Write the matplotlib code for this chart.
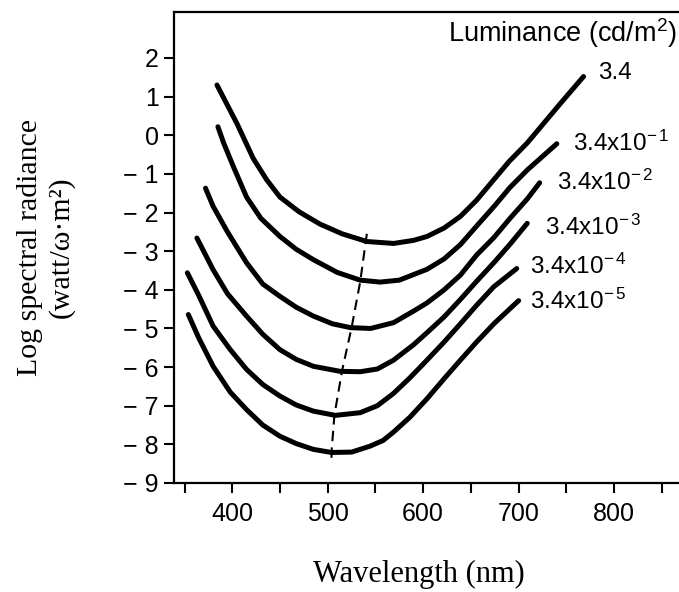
from __future__ import annotations

import matplotlib

matplotlib.use("Agg")
import matplotlib.pyplot as plt
from matplotlib.ticker import FixedLocator, FuncFormatter

# wavelength (nm) / log spectral radiance
WL_34_0 = [384, 405, 422, 436, 450, 470, 492, 515, 541, 569, 590, 604, 622, 639, 656, 674, 690, 709, 726, 743, 768]
LR_34_0 = [1.30, 0.30, -0.60, -1.15, -1.60, -1.98, -2.30, -2.55, -2.75, -2.80, -2.72, -2.62, -2.40, -2.10, -1.68,
           -1.15, -0.68, -0.20, 0.30, 0.80, 1.52]

WL_34_1 = [385, 391, 401, 415, 430, 450, 467, 485, 510, 534, 555, 575, 604, 622, 639, 656, 674, 691, 709, 740]
LR_34_1 = [0.22, -0.20, -0.80, -1.60, -2.15, -2.62, -2.95, -3.22, -3.55, -3.75, -3.80, -3.75, -3.47, -3.20, -2.83,
           -2.35, -1.85, -1.35, -0.90, -0.22]

WL_34_2 = [372, 380, 395, 415, 432, 450, 467, 485, 505, 524, 545, 569, 590, 604, 622, 639, 656, 674, 691, 709, 722]
LR_34_2 = [-1.37, -1.84, -2.50, -3.30, -3.85, -4.17, -4.45, -4.68, -4.88, -4.98, -5.00, -4.85, -4.55, -4.34, -4.00,
           -3.62, -3.10, -2.65, -2.15, -1.65, -1.23]

WL_34_3 = [363, 380, 395, 415, 432, 450, 467, 485, 513, 534, 552, 569, 590, 604, 622, 639, 656, 674, 691, 709]
LR_34_3 = [-2.66, -3.48, -4.10, -4.68, -5.15, -5.55, -5.80, -5.98, -6.11, -6.12, -6.05, -5.82, -5.42, -5.11, -4.70,
           -4.25, -3.78, -3.30, -2.82, -2.28]

WL_34_4 = [353, 365, 380, 398, 415, 432, 450, 467, 485, 508, 534, 552, 569, 586, 604, 622, 639, 656, 674, 698]
LR_34_4 = [-3.56, -4.15, -4.94, -5.55, -6.06, -6.45, -6.75, -6.98, -7.14, -7.25, -7.18, -7.00, -6.68, -6.28, -5.82,
           -5.35, -4.88, -4.40, -3.92, -3.45]

WL_34_5 = [354, 365, 380, 398, 415, 432, 450, 467, 485, 504, 525, 544, 558, 569, 586, 604, 622, 639, 656, 674, 700]
LR_34_5 = [-4.64, -5.25, -5.98, -6.65, -7.10, -7.50, -7.79, -7.98, -8.13, -8.21, -8.20, -8.05, -7.90, -7.68, -7.30,
           -6.82, -6.30, -5.82, -5.35, -4.88, -4.28]

# locus of the minima (dashed)
PEAK_WL = [541, 534, 525, 515, 507, 504, 504]
PEAK_LR = [-2.55, -3.80, -4.98, -6.10, -7.25, -8.20, -8.47]

CURVE_LABELS = ["3.4", r"3.4x10$^{-\,1}$", r"3.4x10$^{-\,2}$", r"3.4x10$^{-\,3}$", r"3.4x10$^{-\,4}$",
                r"3.4x10$^{-\,5}$"]
LABEL_WL = [783, 757, 740, 728, 712, 712]
LABEL_LR = [1.61, -0.22, -1.23, -2.37, -3.40, -4.30]

X_MAJOR = [400, 500, 600, 700, 800]
X_MINOR = [350, 450, 550, 650, 750, 850]
Y_TICKS = list(range(-9, 3))

SANS = ["Liberation Sans", "DejaVu Sans"]
SERIF = ["Liberation Serif", "DejaVu Serif"]


def _ytick(v, _pos):
    v = int(round(v))
    return f"\u2212 {-v}" if v < 0 else f"{v}"


def main() -> None:
    plt.rcParams["font.family"] = SANS
    plt.rcParams["mathtext.fontset"] = "custom"
    plt.rcParams["mathtext.rm"] = "Liberation Sans"
    plt.rcParams["mathtext.default"] = "regular"

    fig = plt.figure(figsize=(6.79, 5.92), dpi=100)
    ax = fig.add_axes([174 / 679, 1 - 483 / 592, 505 / 679, 471 / 592])

    curves = [
        (WL_34_0, LR_34_0),
        (WL_34_1, LR_34_1),
        (WL_34_2, LR_34_2),
        (WL_34_3, LR_34_3),
        (WL_34_4, LR_34_4),
        (WL_34_5, LR_34_5),
    ]
    for wl, lr in curves:
        ax.plot(wl, lr, color="black", lw=3.6, solid_capstyle="round", solid_joinstyle="round")

    ax.plot(PEAK_WL, PEAK_LR, color="black", lw=1.5, linestyle=(0, (5, 3)))

    for txt, x, y in zip(CURVE_LABELS, LABEL_WL, LABEL_LR):
        ax.text(x, y, txt, fontsize=17.5, ha="left", va="center")
    ax.text(626, 2.65, "Luminance (cd/m$^2$)", fontsize=19.5, ha="left", va="center")

    ax.set_xlim(339, 868)
    ax.set_ylim(-9, 3.19)
    ax.xaxis.set_major_locator(FixedLocator(X_MAJOR))
    ax.xaxis.set_minor_locator(FixedLocator(X_MINOR))
    ax.yaxis.set_major_locator(FixedLocator(Y_TICKS))
    ax.yaxis.set_major_formatter(FuncFormatter(_ytick))
    ax.tick_params(axis="both", which="both", direction="out", length=7, width=1.5, labelsize=18)
    ax.tick_params(axis="x", pad=7)
    ax.tick_params(axis="y", pad=4)

    ax.spines["right"].set_visible(False)
    for side in ("left", "top", "bottom"):
        ax.spines[side].set_linewidth(1.6)

    fig.text(46 / 679, 1 - 247 / 592, "Log spectral radiance\n(watt/\u03c9\u00b7m\u00b2)", rotation=90,
             ha="center", va="center", family=SERIF, fontsize=21.5, linespacing=1.2)
    fig.text(419 / 679, 1 - 582 / 592, "Wavelength (nm)", ha="center", va="baseline", family=SERIF, fontsize=22)

    fig.savefig("out.png", dpi=100, facecolor="white")
    plt.close(fig)


if __name__ == "__main__":
    main()
